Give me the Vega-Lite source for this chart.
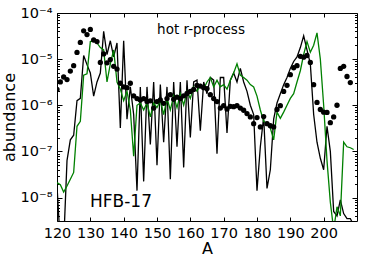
{
  "$schema": "https://vega.github.io/schema/vega-lite/v6.json",
  "width": 300,
  "height": 208,
  "autosize": {"type": "none"},
  "padding": {"left": 57, "top": 13, "right": 17, "bottom": 46},
  "background": "white",
  "config": {
    "view": {"stroke": "black", "strokeWidth": 1},
    "font": "DejaVu Sans",
    "axis": {"domain": false, "grid": false, "labelFont": "DejaVu Sans", "titleFont": "DejaVu Sans", "labelColor": "black", "titleColor": "black", "tickColor": "black", "labelFontSize": 14.5, "titleFontSize": 16, "titleFontWeight": "normal", "tickWidth": 1, "labelOverlap": false, "labelFlush": false}
  },
  "data": {"values": [
    {"A":120,"b":1.78e-8,"g":2.1e-8,"d":2.2e-6},
    {"A":121,"b":1e-9,"g":1.9e-8,"d":3.2e-6},
    {"A":122,"b":1e-9,"g":1.32e-8,"d":4.1e-6},
    {"A":123,"b":6.3e-8,"g":1.78e-8,"d":3.6e-6},
    {"A":124,"b":1.78e-7,"g":2.5e-8,"d":5.5e-6},
    {"A":125,"b":2.24e-7,"g":3.5e-8,"d":7.2e-6},
    {"A":126,"b":1.26e-6,"g":3.5e-7,"d":1.4e-5},
    {"A":127,"b":1.41e-6,"g":4.5e-7,"d":2.3e-5},
    {"A":128,"b":1.2e-5,"g":4.5e-6,"d":4.1e-5},
    {"A":129,"b":7.6e-6,"g":4.8e-6,"d":3.4e-5},
    {"A":130,"b":5.0e-6,"g":2.4e-5,"d":4.4e-5},
    {"A":131,"b":1.58e-6,"g":2.5e-5,"d":2.6e-5},
    {"A":132,"b":3.2e-6,"g":2.24e-5,"d":2.4e-5},
    {"A":133,"b":5.0e-6,"g":1.78e-5,"d":8.5e-6},
    {"A":134,"b":4.0e-5,"g":1.58e-5,"d":1.3e-5},
    {"A":135,"b":1.26e-5,"g":3.2e-6,"d":8.3e-6},
    {"A":136,"b":2.5e-5,"g":7.9e-6,"d":9.8e-6},
    {"A":137,"b":1.12e-5,"g":1.58e-5,"d":7.0e-6},
    {"A":138,"b":2.24e-5,"g":3.2e-6,"d":6.1e-6},
    {"A":139,"b":3.2e-7,"g":2.24e-6,"d":3.0e-6},
    {"A":140,"b":2.5e-5,"g":1.26e-6,"d":2.5e-6},
    {"A":141,"b":5.0e-7,"g":2.0e-6,"d":2.4e-6},
    {"A":142,"b":2.5e-6,"g":7.9e-7,"d":3.0e-6},
    {"A":143,"b":6.3e-7,"g":7.9e-8,"d":1.6e-6},
    {"A":144,"b":1.41e-8,"g":1.0e-6,"d":1.4e-6},
    {"A":145,"b":2.5e-6,"g":1.12e-6,"d":1.3e-6},
    {"A":146,"b":2.24e-8,"g":7.9e-7,"d":1.4e-6},
    {"A":147,"b":2.5e-6,"g":1.12e-6,"d":1.2e-6},
    {"A":148,"b":1.41e-7,"g":5.6e-7,"d":1.25e-6},
    {"A":149,"b":3.2e-6,"g":1.12e-6,"d":8.7e-7},
    {"A":150,"b":5.0e-8,"g":8.9e-7,"d":1.2e-6},
    {"A":151,"b":2.8e-6,"g":1.26e-6,"d":1.3e-6},
    {"A":152,"b":1.58e-7,"g":6.3e-7,"d":1.1e-6},
    {"A":153,"b":2.5e-6,"g":1.41e-6,"d":1.4e-6},
    {"A":154,"b":2.5e-8,"g":7.9e-7,"d":1.7e-6},
    {"A":155,"b":3.2e-6,"g":1.58e-6,"d":1.35e-6},
    {"A":156,"b":1.26e-7,"g":8.9e-7,"d":1.5e-6},
    {"A":157,"b":3.2e-6,"g":1.78e-6,"d":1.4e-6},
    {"A":158,"b":4.5e-8,"g":1.0e-6,"d":1.6e-6},
    {"A":159,"b":3.5e-6,"g":2.0e-6,"d":1.8e-6},
    {"A":160,"b":2.0e-7,"g":1.41e-6,"d":2.0e-6},
    {"A":161,"b":3.2e-6,"g":2.5e-6,"d":2.2e-6},
    {"A":162,"b":3.5e-6,"g":2.0e-6,"d":2.7e-6},
    {"A":163,"b":2.8e-7,"g":2.8e-6,"d":2.6e-6},
    {"A":164,"b":3.2e-6,"g":2.24e-6,"d":2.4e-6},
    {"A":165,"b":1.78e-6,"g":3.2e-6,"d":2.3e-6},
    {"A":166,"b":4.0e-6,"g":4.0e-6,"d":1.7e-6},
    {"A":167,"b":3.5e-6,"g":2.5e-6,"d":1.4e-6},
    {"A":168,"b":8.9e-8,"g":3.5e-6,"d":1.2e-6},
    {"A":169,"b":4.0e-6,"g":2.5e-6,"d":8.7e-7},
    {"A":170,"b":4.0e-6,"g":2.8e-6,"d":9.8e-7},
    {"A":171,"b":2.5e-7,"g":2.24e-6,"d":8.3e-7},
    {"A":172,"b":3.5e-6,"g":3.5e-6,"d":9.5e-7},
    {"A":173,"b":5.0e-6,"g":5.0e-6,"d":9.3e-7},
    {"A":174,"b":3.2e-6,"g":7.9e-6,"d":9.8e-7},
    {"A":175,"b":6.3e-6,"g":4.5e-6,"d":8.7e-7},
    {"A":176,"b":3.2e-6,"g":4.0e-6,"d":7.8e-7},
    {"A":177,"b":2.0e-6,"g":3.5e-6,"d":6.6e-7},
    {"A":178,"b":1.0e-6,"g":2.8e-6,"d":5.6e-7},
    {"A":179,"b":6.3e-7,"g":2.5e-6,"d":4.0e-7},
    {"A":180,"b":1.41e-8,"g":1.58e-6,"d":5.4e-7},
    {"A":181,"b":1.26e-7,"g":7.9e-7,"d":3.4e-7},
    {"A":182,"b":5.6e-7,"g":4.5e-7,"d":5.7e-7},
    {"A":183,"b":1.58e-8,"g":4.0e-7,"d":4.0e-7},
    {"A":184,"b":4.0e-8,"g":3.2e-7,"d":3.6e-7},
    {"A":185,"b":5.0e-7,"g":1.78e-7,"d":3.4e-7},
    {"A":186,"b":1.12e-6,"g":7.1e-7,"d":8.1e-7},
    {"A":187,"b":1.78e-6,"g":5.2e-7,"d":9.8e-7},
    {"A":188,"b":2.8e-6,"g":7.1e-7,"d":2.0e-6},
    {"A":189,"b":4.0e-6,"g":1.0e-6,"d":2.7e-6},
    {"A":190,"b":6.3e-6,"g":1.41e-6,"d":4.6e-6},
    {"A":191,"b":8.9e-6,"g":1.78e-6,"d":6.5e-6},
    {"A":192,"b":1.12e-5,"g":3.2e-6,"d":7.2e-6},
    {"A":193,"b":1.78e-5,"g":5.6e-6,"d":1.15e-5},
    {"A":194,"b":3.2e-5,"g":1.26e-5,"d":1.1e-5},
    {"A":195,"b":1.58e-5,"g":2.4e-5,"d":1.2e-5},
    {"A":196,"b":7.9e-6,"g":1.41e-5,"d":8.5e-6},
    {"A":197,"b":6.3e-7,"g":2.0e-5,"d":2.8e-6},
    {"A":198,"b":1.58e-7,"g":3.7e-5,"d":1.15e-6},
    {"A":199,"b":7.1e-8,"g":1.0e-5,"d":8.1e-7},
    {"A":200,"b":4.0e-8,"g":1.0e-6,"d":7.1e-7},
    {"A":201,"b":3.5e-7,"g":6.3e-8,"d":7.0e-7},
    {"A":202,"b":1.0e-7,"g":7.9e-9,"d":4.2e-7},
    {"A":203,"b":5.0e-9,"g":2.0e-9,"d":5.6e-7},
    {"A":204,"b":4.0e-9,"g":6.3e-9,"d":1.0e-6},
    {"A":205,"b":8.9e-9,"g":4.0e-9,"d":6.3e-6},
    {"A":206,"b":4.5e-9,"g":1.58e-7,"d":7.0e-6},
    {"A":207,"b":3.5e-9,"g":1.26e-7,"d":4.2e-6},
    {"A":208,"b":3.5e-9,"g":1.2e-7,"d":3.1e-6},
    {"A":209,"b":2.5e-9,"g":1.1e-7}
  ]},
  "layer": [
    {
      "mark": {"type": "line", "color": "black", "strokeWidth": 1.3, "clip": true},
      "encoding": {
        "x": {"field": "A", "type": "quantitative",
          "scale": {"domain": [120, 210], "nice": false, "zero": false},
          "axis": {"orient": "bottom", "values": [120,130,140,150,160,170,180,190,200], "tickSize": -4, "labelPadding": 9, "title": "A", "titlePadding": 1}},
        "y": {"field": "b", "type": "quantitative",
          "scale": {"type": "log", "domain": [3.1e-9, 1e-4], "nice": false},
          "axis": {"orient": "left", "values": [1e-8,1e-7,1e-6,1e-5,1e-4], "tickSize": -5, "labelPadding": 10,
            "labelExpr": "'10⁻' + ['⁰','¹','²','³','⁴','⁵','⁶','⁷','⁸','⁹'][round(-log(datum.value)/LN10)]",
            "title": "abundance", "titlePadding": 3}}
      }
    },
    {
      "mark": {"type": "line", "color": "#008000", "strokeWidth": 1.3, "clip": true},
      "encoding": {
        "x": {"field": "A", "type": "quantitative",
          "axis": {"orient": "top", "values": [120,130,140,150,160,170,180,190,200], "tickSize": -4, "labels": false, "title": null}},
        "y": {"field": "g", "type": "quantitative",
          "axis": {"orient": "right", "values": [1e-8,1e-7,1e-6,1e-5,1e-4], "tickSize": -5, "labels": false, "title": null}}
      }
    },
    {
      "mark": {"type": "point", "filled": true, "color": "black", "size": 28, "opacity": 1, "clip": true},
      "encoding": {
        "x": {"field": "A", "type": "quantitative", "axis": null},
        "y": {"field": "d", "type": "quantitative",
          "axis": {"orient": "left", "values": [4e-9,5e-9,6e-9,7e-9,8e-9,9e-9,2e-8,3e-8,4e-8,5e-8,6e-8,7e-8,8e-8,9e-8,2e-7,3e-7,4e-7,5e-7,6e-7,7e-7,8e-7,9e-7,2e-6,3e-6,4e-6,5e-6,6e-6,7e-6,8e-6,9e-6,2e-5,3e-5,4e-5,5e-5,6e-5,7e-5,8e-5,9e-5], "tickSize": -2.5, "labels": false, "title": null}}
      }
    },
    {
      "data": {"values": [{"label": "hot r-process"}]},
      "mark": {"type": "text", "fontSize": 13.5, "font": "DejaVu Sans", "color": "black", "align": "center", "baseline": "middle"},
      "encoding": {
        "x": {"datum": 163.2, "type": "quantitative", "axis": null},
        "y": {"datum": 4.2e-5, "type": "quantitative",
          "axis": {"orient": "right", "values": [4e-9,5e-9,6e-9,7e-9,8e-9,9e-9,2e-8,3e-8,4e-8,5e-8,6e-8,7e-8,8e-8,9e-8,2e-7,3e-7,4e-7,5e-7,6e-7,7e-7,8e-7,9e-7,2e-6,3e-6,4e-6,5e-6,6e-6,7e-6,8e-6,9e-6,2e-5,3e-5,4e-5,5e-5,6e-5,7e-5,8e-5,9e-5], "tickSize": -2.5, "labels": false, "title": null}},
        "text": {"field": "label"}
      }
    },
    {
      "data": {"values": [{"label": "HFB-17"}]},
      "mark": {"type": "text", "fontSize": 17, "font": "DejaVu Sans", "color": "black", "align": "center", "baseline": "middle"},
      "encoding": {
        "x": {"datum": 139.2, "type": "quantitative", "axis": null},
        "y": {"datum": 8.0e-9, "type": "quantitative", "axis": null},
        "text": {"field": "label"}
      }
    }
  ],
  "resolve": {"axis": {"x": "independent", "y": "independent"}}
}
